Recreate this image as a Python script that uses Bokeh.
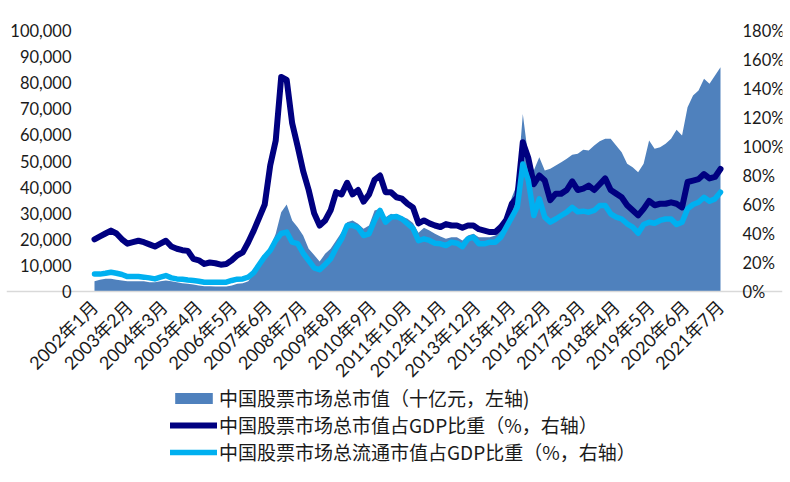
import math
from bokeh.plotting import figure
from bokeh.models import (Range1d, LinearAxis, FixedTicker, NumeralTickFormatter,
                          PrintfTickFormatter, Legend, LegendItem)
from bokeh.embed import file_html
from bokeh.resources import INLINE

# ---------------- data ----------------
tick_labels = ["2002年1月", "2003年2月", "2004年3月", "2005年4月", "2006年5月",
               "2007年6月", "2008年7月", "2009年8月", "2010年9月", "2011年10月",
               "2012年11月", "2013年12月", "2015年1月", "2016年2月", "2017年3月",
               "2018年4月", "2019年5月", "2020年6月", "2021年7月"]

# total market cap (十亿元, left axis), sampled evenly along the category axis
mcap = [3950, 4470, 4850, 4850, 4470, 4210, 3950, 3950, 3950, 3950,
        3570, 3570, 3950, 4210, 3950, 3570, 3190, 2940, 2680, 2300,
        2040, 2040, 1920, 1920, 1920, 2300, 2940, 3190, 3950, 7000,
        11240, 13150, 16990, 22090, 30400, 33300, 27200, 24650, 21450, 16350,
        14000, 11500, 14430, 16350, 19540, 22730, 26560, 27200, 25920, 24010,
        25280, 31030, 31670, 28480, 29760, 29120, 28730, 27840, 26200, 22500,
        24390, 23370, 22090, 21070, 20180, 20820, 20820, 19540, 21450, 22090,
        20820, 20820, 20820, 21450, 24010, 28480, 36140, 41250, 68000, 51460,
        46360, 51460, 46360, 47000, 48270, 49550, 50830, 52400, 52740, 54280,
        54020, 55930, 57590, 58490, 58490, 55930, 53370, 48910, 47620, 45720,
        48910, 57850, 54660, 55300, 56580, 58490, 61940, 59760, 70600, 75090,
        77000, 81480, 79560, 82750, 85940]

# total market cap / GDP (%, right axis)
pct_total = [36, 38, 40, 42, 40, 36, 33, 34, 35, 34,
             32.5, 31, 33, 35, 31, 29.5, 28.5, 28, 22.5, 21.5,
             19, 20, 19.5, 18.5, 19, 21.5, 25, 27, 34, 42,
             51, 60, 87, 104, 148, 146, 116, 100, 83, 70,
             54, 45.5, 49, 56, 68.5, 67, 75, 67, 70, 62,
             67, 77, 80, 68.5, 68.5, 65, 64, 60.5, 58, 47,
             49, 47, 45.5, 44.5, 46.5, 45.5, 45.5, 44, 45.5, 45.5,
             43, 42, 41, 41, 44.5, 49.5, 60.5, 65, 103, 92,
             74, 80, 76.5, 63, 67.5, 67.5, 70, 76, 70, 71,
             73, 70, 74, 78, 70, 67.5, 65, 59.5, 56, 52.5,
             57, 62.5, 59.5, 60.5, 60.5, 61.5, 60.5, 58, 75.5, 76.5,
             77.5, 81, 78, 79, 84.5]

# free-float market cap / GDP (%, right axis)
pct_float = [12, 12, 12.6, 13.3, 12.6, 11.7, 10.3, 10.3, 10.3, 9.9,
             9.4, 8.7, 9.9, 11, 9.4, 8.7, 8.5, 8, 7.6, 7.1,
             6.4, 6.4, 6.4, 6.4, 6.4, 7.6, 8.5, 8.7, 9.9, 13,
             18.6, 24, 28.3, 35.2, 40, 41, 34, 33, 26.4, 21.4,
             16.3, 15, 18.6, 22.5, 30, 36.3, 45.5, 45.5, 44, 38.6,
             39.8, 49, 55.9, 47.8, 51.3, 51.7, 50, 46.7, 43.5, 35,
             36.3, 35.2, 33.3, 32.9, 31.7, 34, 33.3, 31, 36.3, 37.5,
             32.9, 32.9, 34, 34, 37.5, 44.4, 51.3, 58.1, 88, 76.6,
             52.4, 63.9, 51.3, 47.8, 50, 52.4, 54.7, 58, 55, 55.4,
             54.7, 55.9, 59.3, 59.3, 53.6, 51.3, 50, 46.7, 44.4, 40.2,
             46.2, 47.8, 47.1, 49, 50, 50, 46.2, 47.8, 57, 60,
             61.6, 65, 62.3, 63.9, 68.5]

legend_labels = ["中国股票市场总市值（十亿元，左轴)",
                 "中国股票市场总市值占GDP比重（%，右轴）",
                 "中国股票市场总流通市值占GDP比重（%，右轴）"]

# ---------------- positions along the category axis ----------------
n = len(mcap)
n_ticks = len(tick_labels)
xs = [i * (n_ticks - 1) / (n - 1) for i in range(n)]

AREA = "#4F81BD"
NAVY = "#000080"
CYAN = "#00B0F0"
FONT = "Lato, Noto Sans CJK SC"

# layout (pixels): data area spans x 94..720, value 0 at y 291, 100,000 at y 30
W, H = 784, 476
FL, FR, FT, FB = 6, 782, 10, 470
DATA_L, DATA_R, ZERO_Y, TOP_Y = 94.0, 720.0, 291.0, 30.0
ux = (DATA_R - DATA_L) / (n_ticks - 1)
x_start = -(DATA_L - FL) / ux
x_end = (n_ticks - 1) + (FR - DATA_R) / ux
uy = ZERO_Y - TOP_Y
y_low = -(FB - ZERO_Y) / uy * 100000
y_high = 100000 + (TOP_Y - FT) / uy * 100000
p_low = -(FB - ZERO_Y) / uy * 180
p_high = 180 + (TOP_Y - FT) / uy * 180

p = figure(width=W, height=H, output_backend="svg", toolbar_location=None,
           x_range=Range1d(x_start, x_end), y_range=Range1d(y_low, y_high),
           min_border_left=FL, min_border_right=W - FR, min_border_top=FT,
           min_border_bottom=H - FB, x_axis_location=None, y_axis_location=None)
p.extra_y_ranges = {"pct": Range1d(p_low, p_high)}
p.outline_line_color = None
p.xgrid.visible = False
p.ygrid.visible = False

r_area = p.varea(x=xs, y1=0, y2=mcap, fill_color=AREA, fill_alpha=1.0)
r_tot = p.line(x=xs, y=pct_total, y_range_name="pct", line_color=NAVY,
               line_width=6, line_join="round", line_cap="round")
r_flt = p.line(x=xs, y=pct_float, y_range_name="pct", line_color=CYAN,
               line_width=5.5, line_join="round", line_cap="round")


def style(ax, size):
    ax.major_tick_line_color = None
    ax.minor_tick_line_color = None
    ax.major_label_text_font = FONT
    ax.major_label_text_font_size = size
    ax.major_label_text_color = "#1a1a1a"


# left axis, pinned at the first category
ya = LinearAxis(fixed_location=0,
                ticker=FixedTicker(ticks=list(range(0, 100001, 10000))),
                formatter=NumeralTickFormatter(format="0,0"))
style(ya, "16.5px")
ya.axis_line_color = None
ya.major_label_standoff = 17
p.add_layout(ya, "left")

# right axis, pinned at the last category
ra = LinearAxis(y_range_name="pct", fixed_location=n_ticks - 1,
                ticker=FixedTicker(ticks=list(range(0, 181, 20))),
                formatter=PrintfTickFormatter(format="%d%%"))
style(ra, "16.5px")
ra.axis_line_color = None
ra.major_label_standoff = 16
p.add_layout(ra, "right")

# bottom category axis, pinned at value 0
xa = LinearAxis(fixed_location=0,
                ticker=FixedTicker(ticks=list(range(n_ticks))),
                major_label_overrides={i: t for i, t in enumerate(tick_labels)})
style(xa, "18px")
xa.major_label_orientation = math.pi / 4
xa.axis_line_color = "#D9D9D9"
xa.axis_line_width = 1.5
xa.major_label_standoff = 6
p.add_layout(xa, "below")

legend = Legend(items=[LegendItem(label=legend_labels[0], renderers=[r_area]),
                       LegendItem(label=legend_labels[1], renderers=[r_tot]),
                       LegendItem(label=legend_labels[2], renderers=[r_flt])],
                location=(170 - FL, 5), orientation="vertical",
                border_line_color=None, background_fill_alpha=0,
                padding=0, margin=0, spacing=-2, glyph_width=47, glyph_height=14,
                label_height=20, label_standoff=2,
                label_text_font="Noto Sans CJK SC", label_text_font_size="19px",
                label_text_color="#1a1a1a")
p.add_layout(legend)

open("out.html", "w").write(file_html(p, INLINE))
